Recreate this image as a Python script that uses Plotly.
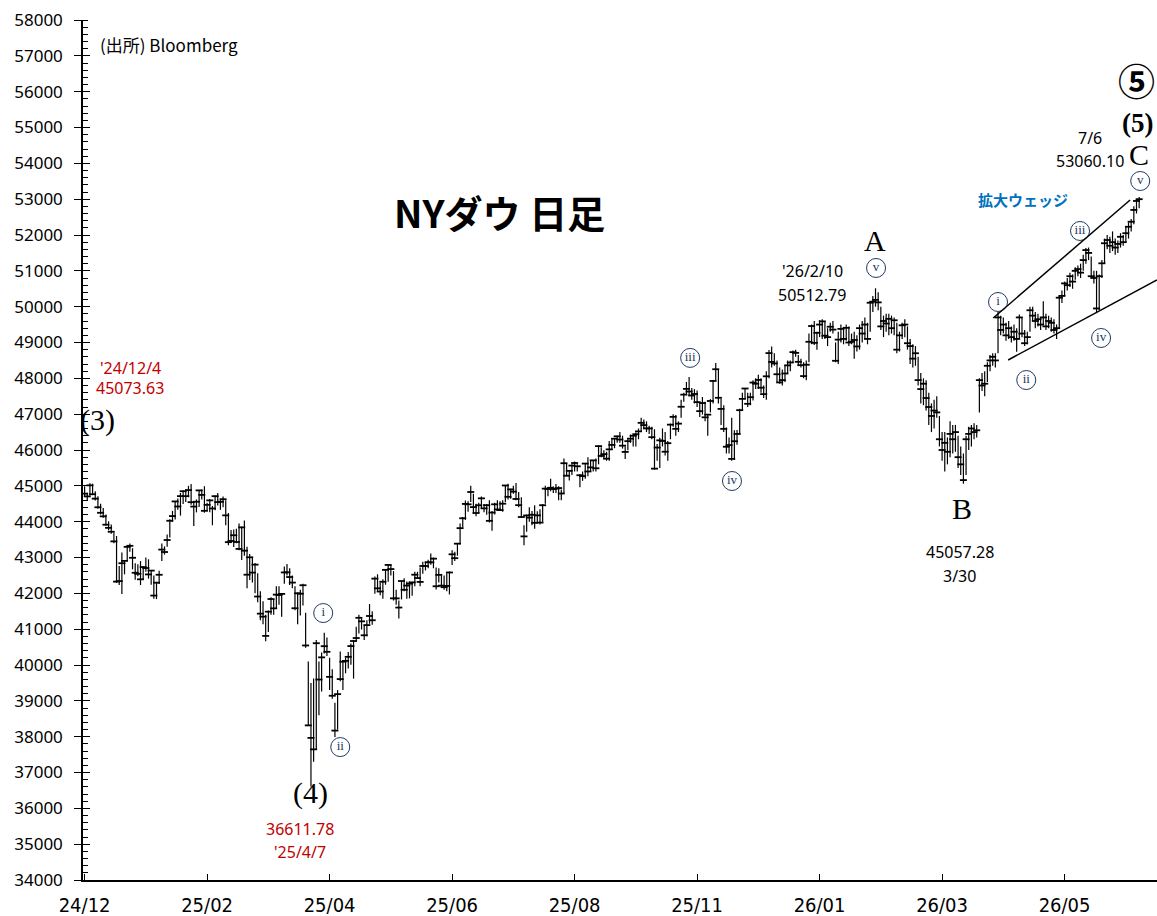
import plotly.graph_objects as go

# NYダウ 日足 2024/12/2 - 2026/7/6 (高値・安値・終値)
highs = [
    44990, 44810, 45074, 45060, 44850, 44710, 44500, 44380, 44200, 44010,
    43920, 43690, 43600, 42760, 43140, 42920, 43300, 43390, 43260, 42840,
    42810, 42900, 42760, 43000, 42950, 42640, 42500, 42320, 42630, 43390,
    43310, 43640, 44070, 44300, 44580, 44650, 44800, 44870, 44860, 45000,
    45050, 44550, 44620, 44880, 44900, 44990, 44530, 44630, 44440, 44730,
    44800, 44600, 44700, 44600, 44240, 43770, 43780, 43800, 43950, 43860,
    44030, 43300, 43100, 42990, 42850, 42560, 42060, 41780, 41400, 41520,
    41890, 41840, 42200, 42200, 42000, 42750, 42820, 42700, 42500, 42200,
    42020, 42100, 42270, 41460, 40100, 39500, 39620, 40700, 40100, 40350,
    40900, 40770, 40200, 39880, 38950, 39300, 40380, 40130, 40200, 40360,
    40600, 40700, 41070, 41400, 41300, 41100, 41250, 41700, 41500, 42470,
    42530, 42300, 42390, 42670, 42800, 42800, 42620, 42100, 41800, 42350,
    42420, 42330, 42330, 42320, 42600, 42600, 42720, 42880, 42890, 42940,
    43110, 43000, 42720, 42700, 42500, 42500, 42560, 42610, 43200, 43160,
    43400, 43950, 44130, 44590, 44570, 45000, 44780, 44500, 44530, 44700,
    44490, 44490, 44600, 44300, 44530, 44600, 44570, 44600, 45020, 45060,
    44920, 45000, 45080, 44830, 44680, 43900, 44200, 44400, 44300, 44460,
    44290, 44350, 44490, 45000, 44950, 45200, 44980, 45050, 44990, 44900,
    45760, 45620, 45420, 45600, 45680, 45600, 45330, 45400, 45640, 45800,
    45700, 45720, 45760, 46130, 46080, 45990, 45950, 46250, 46300, 46320,
    46400, 46500, 46400, 46100, 46300, 46430, 46410, 46490, 46600, 46900,
    46850, 46800, 46680, 46650, 46580, 46170, 46340, 46600, 46500, 46250,
    46740, 47000, 46980, 46800, 47400, 47600, 47900, 48040, 47730, 47700,
    47660, 47300, 47480, 47350, 47000, 47420, 47950, 48430, 48250, 47430,
    47250, 46630, 46350, 46900, 46550, 46560, 47150, 47600, 47730, 47600,
    47600, 47950, 48000, 48100, 48000, 47800, 48200, 48790, 48890, 48700,
    48500, 48300, 48250, 48350, 48500, 48500, 48780, 48800, 48650, 48550,
    48450, 48500, 49250, 49500, 49600, 49300, 49620, 49650, 49600, 49400,
    49550, 49600, 49000, 49300, 49500, 49400, 49500, 49450, 49250, 49300,
    49200, 49500, 49600, 49700, 49550, 50150, 50300, 50513, 50400, 50000,
    49750, 49800, 49800, 49750, 49700, 49550, 49300, 49550, 49650, 49450,
    49100, 48950, 48900, 48600, 48150, 48000, 47950, 47600, 47300, 47400,
    47500, 46950, 46500, 46500, 46350, 46800, 46700, 46700, 46400, 46100,
    45900, 46400, 46650, 46700, 46750, 46700, 48000, 48150, 48200, 48450,
    48650, 48700, 48700, 49850, 49750, 49700, 49550, 49600, 49450, 49500,
    49400, 49780, 49700, 49350, 49300, 50000, 50000, 49850, 49800, 49700,
    50150, 49800, 49750, 49700, 49650, 49500, 50300, 50450, 50700, 50800,
    50950, 50900, 51100, 51150, 51200, 51450, 51640, 51650, 51400, 51000,
    51000, 50900, 51300, 51900, 52000, 51950, 52100, 51900, 51850, 52050,
    52000, 52250, 52350, 52450, 52800, 53000, 53060,
]
lows = [
    44710, 44580, 44730, 44740, 44590, 44360, 44200, 44110, 43890, 43760,
    43660, 43400, 42290, 42230, 41980, 42530, 42900, 43160, 42670, 42380,
    42480, 42230, 42380, 42600, 42410, 42240, 41850, 41840, 42260, 42900,
    43080, 43300, 43560, 44000, 44060, 44330, 44170, 44490, 44550, 44680,
    44470, 43880, 44260, 44410, 44620, 44250, 44300, 44260, 43900, 44320,
    44450, 44330, 44400, 43900, 43340, 43420, 43290, 43400, 43200, 42930,
    43050, 42140, 42370, 42300, 42000, 41750, 41250, 41140, 40660, 40920,
    41400, 41400, 41580, 41680, 41350, 42270, 42500, 42230, 42140, 41530,
    41140, 41380, 41660, 40480, 38300, 36612, 37300, 37650, 38600, 39260,
    40320, 40250, 39300, 39060, 37990, 38200, 39550, 39300, 39770, 39900,
    40010, 39620, 40670, 40880, 40990, 40700, 40800, 41150, 41120, 41990,
    42070, 41950, 41850, 42240, 42320, 42500, 41800, 41680, 41300, 41830,
    42060, 41850, 41860, 41930, 42200, 42400, 42200, 42550, 42640, 42700,
    42800, 42700, 42110, 42300, 42180, 42100, 42060, 41970, 42790, 42900,
    43050, 43370, 43840, 44050, 44280, 44550, 44230, 44150, 44240, 44380,
    44260, 44190, 43980, 43750, 44200, 44300, 44300, 44280, 44550, 44620,
    44640, 44780, 44600, 44400, 44100, 43340, 43720, 44000, 43900, 43800,
    44000, 43920, 44000, 44500, 44710, 44850, 44800, 44800, 44600, 44600,
    44800, 45270, 45150, 45300, 45400, 45400, 44960, 45140, 45200, 45270,
    45390, 45400, 45400, 45600, 45800, 45760, 45700, 45700, 46000, 46050,
    46200, 46200, 46040, 45750, 45990, 46200, 46100, 46100, 46300, 46530,
    46600, 46500, 46450, 46300, 45450, 45700, 45500, 46100, 45850, 45700,
    46300, 46650, 46400, 46500, 46900, 47350, 47530, 47500, 47400, 47300,
    47200, 46920, 46990, 46800, 46400, 47050, 47300, 47950, 47300, 46700,
    46500, 45900, 45900, 45700, 45730, 46150, 46430, 47100, 47430, 47200,
    47250, 47380, 47700, 47700, 47600, 47450, 47400, 48000, 48300, 48350,
    47900, 47850, 47800, 47900, 48150, 48200, 48450, 48600, 48350, 48300,
    48000, 47950, 48450, 48950, 48930, 48800, 49150, 49100, 49100, 48900,
    49300, 49250, 48450, 48400, 49000, 48950, 49050, 48900, 48950, 48550,
    48750, 48800, 49000, 49100, 48950, 49300, 49850, 50000, 49900, 49350,
    49150, 49300, 49200, 49250, 49200, 48700, 48750, 49100, 49150, 48800,
    48400, 48300, 48350, 47800, 47300, 47250, 47100, 46700, 46500, 46600,
    46900, 46100, 45700, 45400, 45600, 45800, 45900, 45950, 45500, 45300,
    45057, 45300, 46000, 46100, 46300, 46350, 47050, 47650, 47500, 47900,
    48200, 48350, 48300, 48700, 49200, 49250, 49050, 49100, 49000, 49050,
    48740, 49100, 49150, 48900, 48950, 49300, 49600, 49400, 49450, 49350,
    49500, 49350, 49400, 49300, 49250, 49100, 49400, 50100, 50300, 50450,
    50550, 50500, 50750, 50850, 50800, 51000, 51200, 51300, 50800, 50650,
    49820, 49900, 50800, 51200, 51600, 51500, 51550, 51450, 51500, 51650,
    51700, 51800, 51900, 52100, 52300, 52600, 52750,
]
closes = [
    44782, 44705, 45014, 44766, 44643, 44402, 44248, 44149, 43915, 43828,
    43718, 43450, 42327, 42342, 42840, 42906, 43297, 43326, 42992, 42574,
    42544, 42392, 42732, 42706, 42528, 42635, 41938, 42297, 42518, 43221,
    43153, 43488, 44025, 44156, 44565, 44424, 44713, 44850, 44713, 44882,
    44544, 44421, 44556, 44873, 44747, 44303, 44470, 44594, 44368, 44711,
    44546, 44556, 44627, 44176, 43428, 43461, 43621, 43433, 43239, 43841,
    43191, 42520, 43006, 42579, 42801, 41911, 41433, 41350, 40813, 41488,
    41841, 41581, 41964, 41953, 41985, 42583, 42587, 42455, 42300, 41584,
    42002, 41989, 42226, 40545, 38315, 37966, 37646, 40608, 39594, 40213,
    40525, 40368, 39669, 39142, 38170, 39187, 39607, 40093, 40114, 40228,
    40528, 40669, 40753, 41317, 41219, 40829, 41114, 41368, 41249, 42410,
    42140, 42051, 42323, 42655, 42792, 42677, 41860, 41859, 41603, 42344,
    42099, 42216, 42270, 42305, 42520, 42427, 42319, 42763, 42762, 42867,
    42866, 42968, 42197, 42515, 42215, 42172, 42207, 42582, 43089, 42982,
    43386, 43819, 44095, 44495, 44484, 44828, 44406, 44241, 44458, 44651,
    44371, 44460, 44023, 44254, 44484, 44342, 44323, 44502, 45010, 44694,
    44901, 44838, 44633, 44461, 44130, 43589, 44173, 44112, 44193, 43968,
    44176, 43975, 44459, 44922, 44911, 44946, 44912, 44922, 44938, 44786,
    45631, 45282, 45418, 45565, 45637, 45545, 45296, 45271, 45621, 45401,
    45515, 45711, 45490, 46108, 45834, 45884, 45758, 46018, 46142, 46315,
    46382, 46292, 46121, 45947, 46247, 46316, 46398, 46441, 46520, 46758,
    46695, 46603, 46602, 46358, 45480, 46068, 46270, 46253, 45952, 46191,
    46707, 46925, 46590, 46735, 47207, 47545, 47706, 47632, 47522, 47563,
    47336, 47085, 47311, 46912, 46987, 47368, 47927, 48254, 47457, 47147,
    46590, 46091, 46138, 45752, 46245, 46448, 47112, 47427, 47716, 47289,
    47474, 47882, 47850, 47955, 47739, 47560, 48057, 48704, 48458, 48416,
    48114, 47886, 47951, 48135, 48362, 48442, 48731, 48710, 48461, 48367,
    48063, 48380, 49020, 49460, 48990, 49270, 49500, 49590, 49190, 49150,
    49440, 49360, 48490, 49080, 49380, 49100, 49410, 49000, 49020, 49070,
    48890, 49400, 49250, 49500, 49100, 50110, 50140, 50190, 50120, 49450,
    49600, 49530, 49660, 49400, 49620, 48800, 49200, 49480, 49500, 48980,
    48900, 48550, 48700, 47950, 47700, 47850, 47450, 47200, 46950, 47100,
    47050, 46300, 46000, 46200, 45950, 46450, 46300, 46500, 45800, 45600,
    45160, 46300, 46450, 46600, 46500, 46550, 47950, 47800, 47850, 48350,
    48500, 48600, 48500, 49700, 49350, 49500, 49200, 49400, 49150, 49300,
    49100, 49700, 49250, 48980, 49150, 49900, 49750, 49600, 49650, 49500,
    49700, 49450, 49600, 49550, 49350, 49400, 50250, 50300, 50650, 50600,
    50850, 50700, 51000, 51050, 50950, 51300, 51580, 51500, 50850, 50800,
    49950, 50850, 51210, 51770, 51860, 51700, 51800, 51650, 51750, 51950,
    51800, 52050, 52230, 52370, 52700, 52950, 53000,
]

tick_text = ["24/12", "25/02", "25/04", "25/06", "25/08", "25/11", "26/01", "26/03", "26/05"]
label_step = 46

# 波動ラベル (丸数字)
wave_text = ["i", "ii", "iii", "iv", "v", "i", "ii", "iii", "iv", "v"]
wave_x = [89.6, 96.0, 227.4, 243.1, 297.2, 343.0, 353.6, 373.8, 381.7, 396.4]
wave_y = [41450, 37710, 48570, 45135, 51080, 50130, 47953, 52112, 49126, 53507]

NAVY = "#203864"
RED = "#C00000"
BLUE = "#0070C0"
SERIF = "Liberation Serif, DejaVu Serif, serif"
SANS = "Noto Sans, Noto Sans CJK JP, sans-serif"
JP = "Noto Sans CJK JP, sans-serif"

n = len(closes)
idx = list(range(n))

# 高値-安値の縦線
hl_x, hl_y = [], []
for i in idx:
    hl_x += [i, i, None]
    hl_y += [lows[i], highs[i], None]

fig = go.Figure()
fig.add_trace(go.Scatter(x=hl_x, y=hl_y, mode="lines",
                         line=dict(color="black", width=1.2), hoverinfo="skip"))
fig.add_trace(go.Scatter(x=idx, y=closes, mode="markers",
                         marker=dict(symbol="line-ew", size=5,
                                     line=dict(color="black", width=1.8))))
fig.add_trace(go.Scatter(x=wave_x, y=wave_y, mode="markers+text", text=wave_text,
                         textposition="middle center",
                         textfont=dict(family=SERIF, size=13, color=NAVY),
                         marker=dict(symbol="circle", size=19, color="white",
                                     line=dict(color=NAVY, width=1))))
# 内向き目盛り用のダミー
fig.add_trace(go.Scatter(x=[0], y=[34000], yaxis="y2", mode="markers",
                         marker=dict(opacity=0), hoverinfo="skip"))

# 拡大ウェッジのライン
fig.add_shape(type="line", x0=341.2, y0=49684, x1=392.6, y1=52977,
              line=dict(color="black", width=1.5))
fig.add_shape(type="line", x0=346.8, y0=48512, x1=402.7, y1=50744,
              line=dict(color="black", width=1.5))


def label(x, y, text, size=16, color="black", family=SANS, **kw):
    fig.add_annotation(x=x, y=y, text=text, showarrow=False,
                       font=dict(family=family, size=size, color=color), **kw)


label(17.1, 48288, "'24/12/4", color=RED)
label(17.1, 47730, "45073.63", color=RED)
label(4.7, 46837, "(3)", size=30, family=SERIF)
label(84.7, 36428, "(4)", size=30, family=SERIF)
label(81.0, 35424, "36611.78", color=RED)
label(81.0, 34782, "'25/4/7", color=RED)
label(296.8, 51833, "A", size=30, family=SERIF)
label(273.2, 50995, "'26/2/10")
label(273.2, 50326, "50512.79")
label(329.5, 44381, "B", size=30, family=SERIF)
label(328.7, 43154, "45057.28")
label(328.7, 42484, "3/30")
label(377.6, 54707, "7/6")
label(377.6, 54065, "53060.10")
label(396.0, 54233, "C", size=30, family=SERIF)
label(395.2, 55126, "<b>(5)</b>", size=27, family=SERIF)
label(394.9, 56330, "<b>⑤</b>", size=37, family=JP)
label(352.4, 52977, "<b>拡大ウェッジ</b>", size=15, color=BLUE, family=JP)

fig.add_annotation(xref="paper", yref="paper", x=0.014, y=0.971,
                   xanchor="left", yanchor="middle",
                   text="(出所) Bloomberg", showarrow=False,
                   font=dict(family=JP, size=17, color="black"))
fig.add_annotation(xref="paper", yref="paper", x=0.388, y=0.777,
                   xanchor="center", yanchor="middle",
                   text="<b>NYダウ 日足</b>", showarrow=False,
                   font=dict(family=JP, size=38, color="black"))

fig.update_layout(
    width=1157, height=916,
    margin=dict(l=83, r=0, t=20, b=36, autoexpand=False),
    paper_bgcolor="white", plot_bgcolor="white",
    showlegend=False,
    xaxis=dict(range=[-0.6, 402.7], tickvals=list(range(0, n, label_step)),
               ticktext=tick_text, ticks="inside", ticklen=6, tickcolor="black",
               showline=True, linecolor="black", linewidth=1.5,
               showgrid=False, zeroline=False, automargin=False,
               ticklabelstandoff=6,
               tickfont=dict(family="Liberation Sans Narrow, DejaVu Sans Condensed, sans-serif",
                             size=20, color="black")),
    yaxis=dict(range=[34000, 58000], tick0=34000, dtick=1000, tickformat="d",
               ticks="outside", ticklen=7, tickcolor="black",
               showline=True, linecolor="black", linewidth=1.5,
               showgrid=False, zeroline=False, automargin=False,
               ticklabelstandoff=8,
               tickfont=dict(family=SANS, size=17, color="black"),
               minor=dict(dtick=200, ticks="inside", ticklen=5, tickcolor="black")),
    yaxis2=dict(overlaying="y", matches="y", side="left", anchor="x",
                tick0=34000, dtick=1000, ticks="inside", ticklen=7, tickcolor="black",
                showticklabels=False, showgrid=False, showline=False, zeroline=False,
                automargin=False),
)

fig.write_html("out.html", config={"displayModeBar": False},
               post_script="document.body.style.margin='0';")
